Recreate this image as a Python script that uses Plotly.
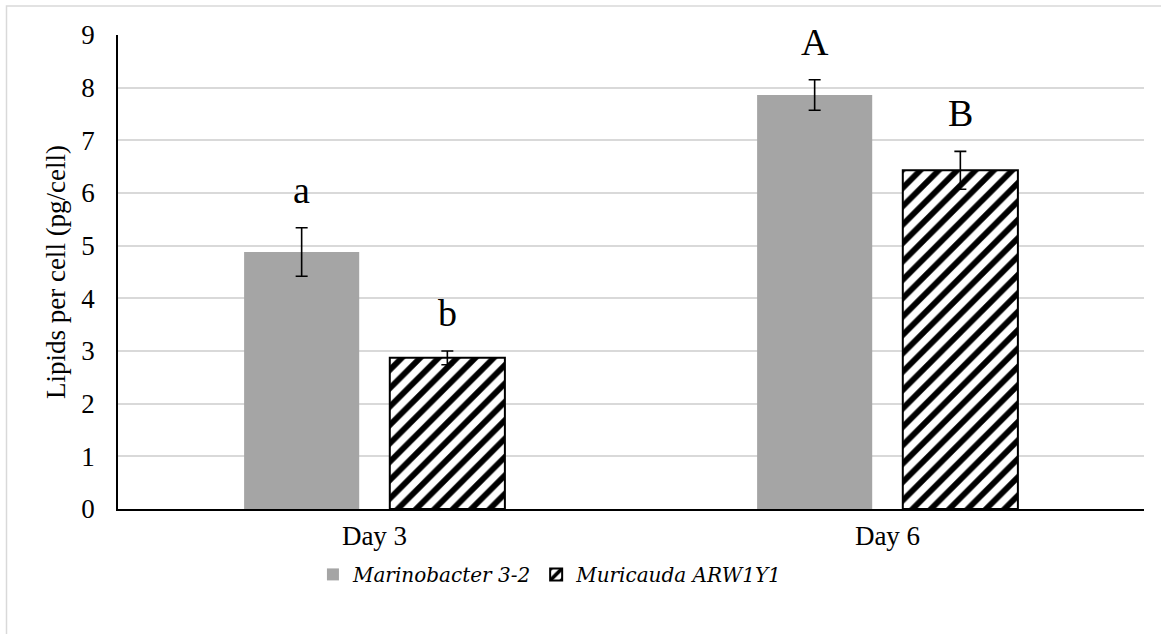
import plotly.graph_objects as go

categories = ["Day 3", "Day 6"]
series_names = ["Marinobacter 3-2", "Muricauda ARW1Y1"]
marinobacter = [4.88, 7.86]
marinobacter_err = [0.46, 0.29]
muricauda = [2.87, 6.43]
muricauda_err = [0.13, 0.36]
letters_marinobacter = ["a", "A"]
letters_muricauda = ["b", "B"]
y_ticks = [0, 1, 2, 3, 4, 5, 6, 7, 8, 9]

FONT = "Liberation Serif, serif"
LEG_FONT = "DejaVu Serif, serif"
W, H = 1161, 634
L, R, T, B = 118, 17, 34.5, 124.7

fig = go.Figure()
fig.add_trace(go.Bar(
    name=series_names[0], x=categories, y=marinobacter,
    marker=dict(color="#A5A5A5", line=dict(width=0)),
    error_y=dict(type="data", array=marinobacter_err, color="black", thickness=1.6, width=6),
))
fig.add_trace(go.Bar(
    name=series_names[1], x=categories, y=muricauda,
    marker=dict(color="white", line=dict(color="black", width=2),
                pattern=dict(shape="/", fgcolor="black", bgcolor="white", fgopacity=1,
                             size=13, solidity=0.45)),
    error_y=dict(type="data", array=muricauda_err, color="black", thickness=1.6, width=6),
))

# significance letters, placed above error bars
bar_offsets = [-0.5 + 0.432 / 2 + (1 - 0.432) / 4, -0.5 + 0.432 / 2 + 3 * (1 - 0.432) / 4]
annotations = []
for i, cat in enumerate(categories):
    for vals, errs, labs, off in [(marinobacter, marinobacter_err, letters_marinobacter, bar_offsets[0]),
                                  (muricauda, muricauda_err, letters_muricauda, bar_offsets[1])]:
        annotations.append(dict(
            x=i + off, y=vals[i] + errs[i], xref="x", yref="y",
            text=labs[i], showarrow=False, yanchor="middle", yshift=38,
            font=dict(family=FONT, size=38, color="black"),
        ))

fig.update_layout(
    width=W, height=H,
    margin=dict(l=L, r=R, t=T, b=B),
    paper_bgcolor="white", plot_bgcolor="white",
    barmode="group", bargap=0.432, bargroupgap=0.21,
    font=dict(family=FONT, size=27, color="black"),
    showlegend=True,
    legend=dict(orientation="h", x=0.19, y=-0.138, xanchor="left", yanchor="middle",
                font=dict(family=LEG_FONT, size=20, color="black", style="italic"),
                itemwidth=30, traceorder="normal", bgcolor="rgba(0,0,0,0)"),
    annotations=annotations,
    shapes=[dict(type="rect", xref="paper", yref="paper",
                 x0=(6.5 - L) / (W - L - R), x1=(1175 - L) / (W - L - R),
                 y0=-(H + 10 - (H - B)) / (H - T - B), y1=(H - B - 5.5) / (H - T - B),
                 line=dict(color="#D9D9D9", width=1.5), fillcolor="rgba(0,0,0,0)", layer="below")],
)
fig.update_xaxes(
    type="category", showline=True, linecolor="black", linewidth=1.5,
    showgrid=False, ticks="", ticklabelstandoff=2,
    tickfont=dict(family=FONT, size=27, color="black"),
)
fig.update_yaxes(
    range=[0, 9], tickvals=y_ticks, showline=True, linecolor="black", linewidth=1.5,
    showgrid=True, gridcolor="#D9D9D9", gridwidth=1.5, zeroline=False, ticks="",
    ticklabelstandoff=16,
    tickfont=dict(family=FONT, size=27, color="black"),
    title=dict(text="Lipids per cell (pg/cell)", font=dict(family=FONT, size=27, color="black"), standoff=8),
)

fig.write_html("out.html")
